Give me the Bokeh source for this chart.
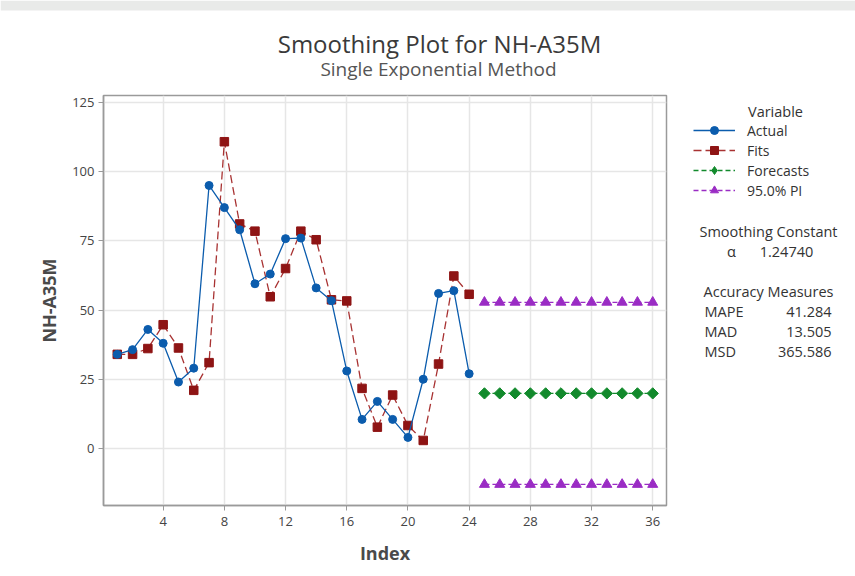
import math
from bokeh.plotting import figure
from bokeh.layouts import column, row
from bokeh.models import Label, Legend, LegendItem, FixedTicker, Range1d, BoxAnnotation
from bokeh.embed import file_html
from bokeh.resources import INLINE

# ---- data ----
index = list(range(1, 25))
actual = [34, 35.7, 43, 38, 24, 29, 95, 87, 79, 59.5, 63, 75.8, 76, 58, 53.4, 28, 10.5, 17, 10.5, 4, 25, 56, 57, 27]
fits = [34, 34, 36.1, 44.7, 36.3, 21, 31, 110.8, 81.1, 78.5, 54.8, 65, 78.5, 75.4, 53.7, 53.3, 21.7, 7.7, 19.3, 8.3, 2.9, 30.5, 62.3, 55.7]
f_index = list(range(25, 37))
forecasts = [19.9] * 12
pi_upper = [52.8] * 12
pi_lower = [-13.0] * 12

x_ticks = [4, 8, 12, 16, 20, 24, 28, 32, 36]
y_ticks = [0, 25, 50, 75, 100, 125]

title_text = "Smoothing Plot for NH-A35M"
subtitle_text = "Single Exponential Method"
legend_labels = ["Actual", "Fits", "Forecasts", "95.0% PI"]
smoothing_alpha = "1.24740"
measure_names = ["MAPE", "MAD", "MSD"]
measure_values = ["41.284", "13.505", "365.586"]

FONT = "Open Sans"
BLUE = "#0b5cad"
RED_M = "#8e1414"
RED_L = "#a83232"
GREEN = "#128a2c"
PURPLE = "#9a2cc4"
TXT = "#333333"

W, H = 855, 576
TOP_H = 93
MAIN_W = 668
BODY_H = H - TOP_H
RIGHT_W = W - MAIN_W
B_TOP, B_BOTTOM = 2, 71


def blank(w, h, xr, yr, bt=0, bb=0):
    f = figure(width=w, height=h, output_backend="svg", toolbar_location=None,
               x_range=Range1d(*xr), y_range=Range1d(*yr),
               min_border=0, min_border_left=0, min_border_right=0,
               min_border_top=bt, min_border_bottom=bb)
    f.axis.visible = False
    f.grid.visible = False
    f.outline_line_color = None
    f.background_fill_color = "white"
    f.border_fill_color = "white"
    return f


def lab(f, text, x, y, size="14.5px", align="left", color=TXT):
    f.add_layout(Label(x=x, y=y, text=text, text_font=FONT, text_font_size=size,
                       text_align=align, text_baseline="middle", text_color=color))


# ---------- title strip (coordinates = page pixels) ----------
top = blank(W, TOP_H, (0, W), (TOP_H, 0))
top.add_layout(BoxAnnotation(top=0, bottom=10, fill_color="#e9eae9", fill_alpha=1, line_color=None))
lab(top, title_text, 439, 43, size="24px", align="center", color="#3a3a3a")
lab(top, subtitle_text, 438, 68, size="19px", align="center", color="#555555")

# ---------- main plot ----------
p = figure(width=MAIN_W, height=BODY_H, output_backend="svg", toolbar_location=None,
           min_border_left=103, min_border_right=2, min_border_top=B_TOP, min_border_bottom=B_BOTTOM,
           x_range=Range1d(0.1, 36.9), y_range=Range1d(-20.6, 127.5))
p.background_fill_color = "white"
p.border_fill_color = "white"
p.outline_line_color = "#9a9a9a"
p.outline_line_width = 1.5

for ax in (p.xaxis[0], p.yaxis[0]):
    ax.axis_line_color = "#9a9a9a"
    ax.axis_line_width = 1.5
    ax.major_tick_line_color = "#9a9a9a"
    ax.major_tick_out = 5
    ax.major_tick_in = 0
    ax.minor_tick_line_color = None
    ax.major_label_text_font = FONT
    ax.major_label_text_font_size = "13px"
    ax.major_label_text_color = "#444444"
    ax.axis_label_text_font = FONT
    ax.axis_label_text_font_size = "18px"
    ax.axis_label_text_font_style = "bold"
    ax.axis_label_text_color = "#4a4a4a"

p.xaxis.ticker = FixedTicker(ticks=x_ticks)
p.yaxis.ticker = FixedTicker(ticks=y_ticks)
p.xaxis.axis_label = "Index"
p.yaxis.axis_label = "NH-A35M"
p.xaxis.major_label_standoff = 6
p.xaxis.axis_label_standoff = 12
p.yaxis.major_label_standoff = 4
p.yaxis.axis_label_standoff = 8
p.xgrid.ticker = FixedTicker(ticks=x_ticks)
p.ygrid.ticker = FixedTicker(ticks=y_ticks)
p.grid.grid_line_color = "#e6e6e6"
p.grid.grid_line_width = 1.5

STY = {
    "Actual": dict(lc=BLUE, dash="solid", marker="circle", size=8, mc=BLUE, angle=0),
    "Fits": dict(lc=RED_L, dash="8 4", marker="square", size=8.5, mc=RED_M, angle=0),
    "Forecasts": dict(lc=GREEN, dash="5 3", marker="square", size=8, mc=GREEN, angle=math.pi / 4),
    "95.0% PI": dict(lc=PURPLE, dash="5 3", marker="triangle", size=10, mc=PURPLE, angle=0),
}


def series(f, x, y, key, legend_key=False):
    s = STY[key]
    marker, size, angle = s["marker"], s["size"], s["angle"]
    if legend_key and angle:
        marker, size, angle = "diamond", 12, 0
    l = f.line(x, y, line_color=s["lc"], line_width=1.3, line_dash=s["dash"])
    m = f.scatter(x, y, marker=marker, size=size, angle=angle,
                  fill_color=s["mc"], line_color=s["mc"])
    return l, m


series(p, index, fits, "Fits")
series(p, index, actual, "Actual")
series(p, f_index, forecasts, "Forecasts")
series(p, f_index, pi_upper, "95.0% PI")
series(p, f_index, pi_lower, "95.0% PI")

# ---------- right panel: legend + statistics (coordinates = page pixels) ----------
# its x range is page pixels 668..855, so the series drawn here for the legend
# keys fall outside its view and only their legend samples show
frame_top, frame_bottom = TOP_H + B_TOP, H - B_BOTTOM
rp = blank(RIGHT_W, BODY_H, (MAIN_W, W), (frame_bottom, frame_top), bt=B_TOP, bb=B_BOTTOM)
src = {"Actual": (index, actual), "Fits": (index, fits),
       "Forecasts": (f_index, forecasts), "95.0% PI": (f_index, pi_upper)}
items = []
for key in legend_labels:
    l, m = series(rp, src[key][0], src[key][1], key, legend_key=True)
    items.append(LegendItem(label=key, renderers=[l, m]))
legend = Legend(items=items, location="top_left", margin=25, padding=0, spacing=0,
                glyph_width=42, glyph_height=20, label_height=20, label_standoff=12,
                label_text_font=FONT, label_text_font_size="14px", label_text_color=TXT,
                border_line_color=None, background_fill_alpha=0)
rp.add_layout(legend, "center")

lab(rp, "Variable", 775, 111, align="center")
lab(rp, "Smoothing Constant", 768, 231, align="center")
lab(rp, "\u03b1", 731, 251, align="center")
lab(rp, smoothing_alpha, 786, 251, align="center")
lab(rp, "Accuracy Measures", 768, 291, align="center")
for i, (n, v) in enumerate(zip(measure_names, measure_values)):
    lab(rp, n, 704, 311 + 20 * i)
    lab(rp, v, 831, 311 + 20 * i, align="right")

layout = column(top, row(p, rp, spacing=0), spacing=0)
open("out.html", "w").write(file_html(layout, INLINE))
